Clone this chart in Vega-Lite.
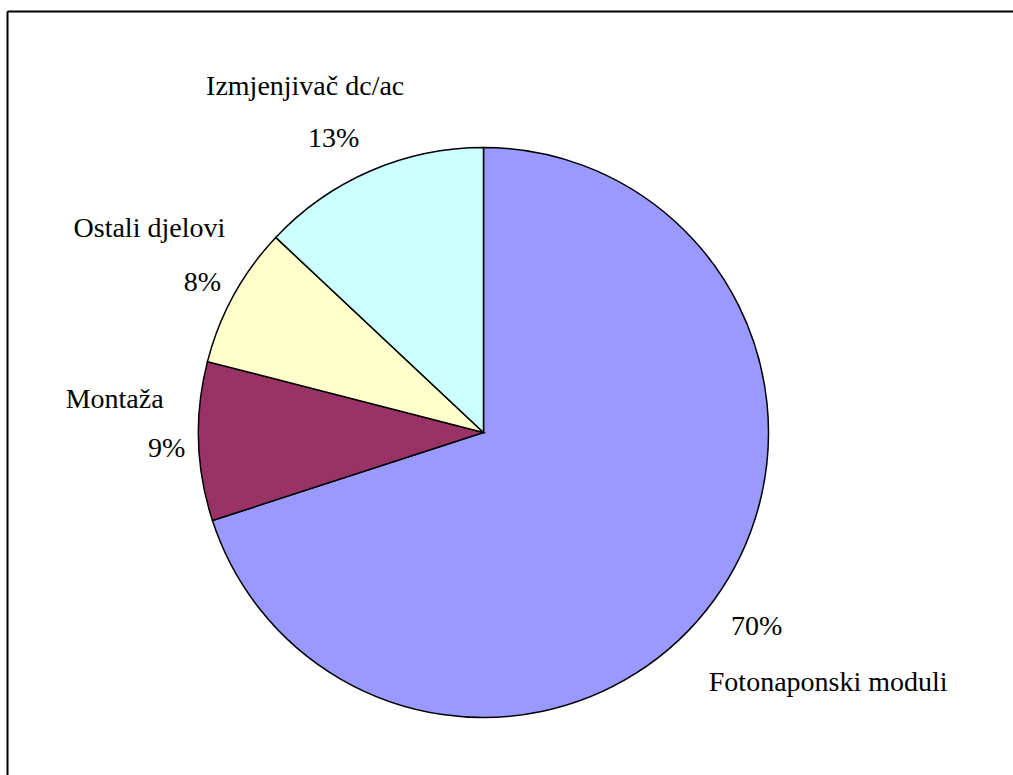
{
  "$schema": "https://vega.github.io/schema/vega-lite/v6.json",
  "width": 1100,
  "height": 850,
  "autosize": {"type": "none"},
  "padding": {"left": 7, "top": 11, "right": -94, "bottom": -86},
  "background": "white",
  "config": {
    "view": {"stroke": null},
    "axis": {"domain": true, "domainColor": "black", "domainWidth": 2, "ticks": false, "labels": false, "grid": false, "title": null},
    "text": {"font": "Liberation Serif, Tinos, Times New Roman, Nimbus Roman, DejaVu Serif", "fontSize": 28, "baseline": "alphabetic", "align": "center", "color": "black"}
  },
  "data": {"values": [
    {"name": "Fotonaponski moduli", "value": 70, "pct": "70%", "k": 1},
    {"name": "Montaža", "value": 9, "pct": "9%", "k": 2},
    {"name": "Ostali djelovi", "value": 8, "pct": "8%", "k": 3},
    {"name": "Izmjenjivač dc/ac", "value": 13, "pct": "13%", "k": 4}
  ]},
  "layer": [
    {
      "mark": {"type": "point", "opacity": 0},
      "encoding": {
        "x": {"field": "k", "type": "quantitative", "axis": {"orient": "top"}},
        "y": {"field": "value", "type": "quantitative", "axis": {"orient": "left"}}
      }
    },
    {
      "mark": {"type": "arc", "outerRadius": 285, "stroke": "black", "strokeWidth": 1.5, "xOffset": -73.5, "yOffset": -3.5},
      "encoding": {
        "theta": {"field": "value", "type": "quantitative", "stack": true},
        "order": {"field": "k", "type": "quantitative"},
        "color": {"field": "name", "type": "nominal", "legend": null,
          "scale": {"domain": ["Fotonaponski moduli", "Montaža", "Ostali djelovi", "Izmjenjivač dc/ac"],
                    "range": ["#9999FF", "#993366", "#FFFFCC", "#CCFFFF"]}}
      }
    },
    {
      "mark": {"type": "text", "radius": 381, "dx": -27, "dy": 12, "xOffset": -73.5, "yOffset": -3.5},
      "encoding": {"theta": {"field": "value", "type": "quantitative", "stack": true}, "order": {"field": "k", "type": "quantitative"}, "text": {"condition": {"test": "datum.k === 4", "field": "name", "type": "nominal"}, "value": ""}}
    },
    {
      "mark": {"type": "text", "radius": 322, "dx": -22, "dy": 10, "xOffset": -73.5, "yOffset": -3.5},
      "encoding": {"theta": {"field": "value", "type": "quantitative", "stack": true}, "order": {"field": "k", "type": "quantitative"}, "text": {"condition": {"test": "datum.k === 4", "field": "pct", "type": "nominal"}, "value": ""}}
    },
    {
      "mark": {"type": "text", "radius": 387, "dx": 5, "dy": -9, "xOffset": -73.5, "yOffset": -3.5},
      "encoding": {"theta": {"field": "value", "type": "quantitative", "stack": true}, "order": {"field": "k", "type": "quantitative"}, "text": {"condition": {"test": "datum.k === 3", "field": "name", "type": "nominal"}, "value": ""}}
    },
    {
      "mark": {"type": "text", "radius": 315, "dx": -5, "dy": 10, "xOffset": -73.5, "yOffset": -3.5},
      "encoding": {"theta": {"field": "value", "type": "quantitative", "stack": true}, "order": {"field": "k", "type": "quantitative"}, "text": {"condition": {"test": "datum.k === 3", "field": "pct", "type": "nominal"}, "value": ""}}
    },
    {
      "mark": {"type": "text", "radius": 368, "dx": -1, "dy": -36, "xOffset": -73.5, "yOffset": -3.5},
      "encoding": {"theta": {"field": "value", "type": "quantitative", "stack": true}, "order": {"field": "k", "type": "quantitative"}, "text": {"condition": {"test": "datum.k === 2", "field": "name", "type": "nominal"}, "value": ""}}
    },
    {
      "mark": {"type": "text", "radius": 317, "dx": 0, "dy": 15, "xOffset": -73.5, "yOffset": -3.5},
      "encoding": {"theta": {"field": "value", "type": "quantitative", "stack": true}, "order": {"field": "k", "type": "quantitative"}, "text": {"condition": {"test": "datum.k === 2", "field": "pct", "type": "nominal"}, "value": ""}}
    },
    {
      "mark": {"type": "text", "radius": 340, "dx": -2, "dy": 3, "xOffset": -73.5, "yOffset": -3.5},
      "encoding": {"theta": {"field": "value", "type": "quantitative", "stack": true}, "order": {"field": "k", "type": "quantitative"}, "text": {"condition": {"test": "datum.k === 1", "field": "pct", "type": "nominal"}, "value": ""}}
    },
    {
      "mark": {"type": "text", "radius": 431, "dx": -4, "dy": 5, "xOffset": -73.5, "yOffset": -3.5},
      "encoding": {"theta": {"field": "value", "type": "quantitative", "stack": true}, "order": {"field": "k", "type": "quantitative"}, "text": {"condition": {"test": "datum.k === 1", "field": "name", "type": "nominal"}, "value": ""}}
    }
  ]
}
